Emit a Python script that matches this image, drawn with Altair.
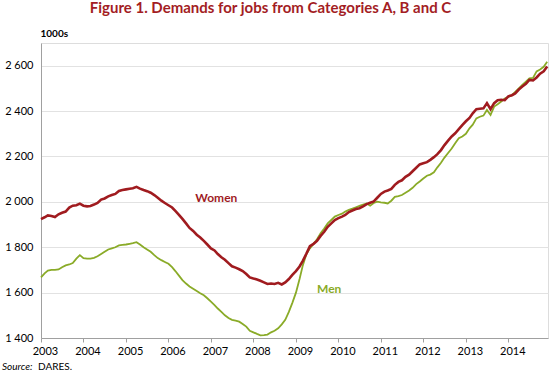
import altair as alt
import pandas as pd

years = list(range(2003, 2015))
months = [f"{y}-{m:02d}-01" for y in years for m in range(1, 13)]

women_values = [
    1924, 1932, 1940, 1938, 1933, 1945, 1952, 1957, 1975, 1983, 1985, 1992,  # 2003
    1983, 1980, 1982, 1988, 1995, 2010, 2015, 2024, 2030, 2035, 2048, 2052,  # 2004
    2055, 2058, 2060, 2066, 2058, 2052, 2047, 2040, 2030, 2018, 2005, 1995,  # 2005
    1985, 1975, 1960, 1943, 1925, 1905, 1885, 1872, 1855, 1843, 1828, 1812,  # 2006
    1795, 1786, 1770, 1756, 1745, 1730, 1716, 1710, 1703, 1695, 1682, 1667,  # 2007
    1662, 1658, 1652, 1645, 1638, 1640, 1638, 1643, 1636, 1645, 1660, 1678,  # 2008
    1695, 1715, 1740, 1772, 1805, 1815, 1828, 1850, 1868, 1890, 1905, 1920,  # 2009
    1928, 1935, 1942, 1955, 1962, 1968, 1972, 1980, 1990, 1996, 2002, 2018,  # 2010
    2035, 2045, 2050, 2057, 2075, 2088, 2095, 2110, 2120, 2135, 2150, 2165,  # 2011
    2170, 2175, 2185, 2197, 2210, 2228, 2250, 2270, 2288, 2302, 2320, 2338,  # 2012
    2355, 2370, 2390, 2408, 2410, 2412, 2435, 2408, 2435, 2448, 2450, 2448,  # 2013
    2465, 2470, 2478, 2495, 2508, 2520, 2537, 2535, 2548, 2565, 2575, 2596,  # 2014
]

men_values = [
    1667, 1685, 1697, 1700, 1700, 1702, 1712, 1720, 1724, 1730, 1750, 1765,  # 2003
    1752, 1750, 1750, 1753, 1760, 1770, 1780, 1790, 1795, 1800, 1808, 1810,  # 2004
    1812, 1815, 1818, 1822, 1812, 1800, 1790, 1780, 1765, 1752, 1743, 1735,  # 2005
    1727, 1712, 1695, 1675, 1655, 1640, 1627, 1617, 1607, 1597, 1588, 1575,  # 2006
    1560, 1545, 1530, 1515, 1500, 1488, 1480, 1477, 1472, 1462, 1450, 1432,  # 2007
    1425, 1418, 1412, 1413, 1415, 1425, 1432, 1443, 1460, 1480, 1515, 1555,  # 2008
    1600, 1660, 1720, 1770, 1795, 1815, 1835, 1862, 1882, 1905, 1920, 1935,  # 2009
    1942, 1948, 1957, 1965, 1970, 1976, 1982, 1988, 1993, 1983, 1995, 2001,  # 2010
    1998, 1996, 1993, 2005, 2022, 2025, 2030, 2040, 2050, 2062, 2078, 2090,  # 2011
    2103, 2115, 2120, 2130, 2152, 2172, 2195, 2215, 2235, 2258, 2280, 2288,  # 2012
    2300, 2324, 2340, 2368, 2375, 2380, 2405, 2383, 2420, 2430, 2442, 2455,  # 2013
    2462, 2470, 2485, 2500, 2515, 2530, 2544, 2546, 2575, 2583, 2595, 2617,  # 2014
]

series_names = ["Women", "Men"]
series_colors = ["#a01b1f", "#8aab28"]
y_ticks = [1400, 1600, 1800, 2000, 2200, 2400, 2600]
label_texts = ["Women", "Men"]
label_dates = ["2006-08-20", "2009-07-01"]
label_values = [2018, 1616]

df = pd.DataFrame({
    "date": months * 2,
    "value": women_values + men_values,
    "series": ["Women"] * len(months) + ["Men"] * len(months),
})

x_scale = alt.Scale(
    type="utc",
    domain=[alt.DateTime(year=2003, month=1, date=1, utc=True),
            alt.DateTime(year=2014, month=12, date=8, utc=True)],
)
y_scale = alt.Scale(domain=[1400, 2700], nice=False, zero=False)
color_scale = alt.Scale(domain=series_names, range=series_colors)

x_axis = alt.Axis(
    title=None,
    values=[alt.DateTime(year=y, month=1, date=1, utc=True) for y in years],
    format="%Y",
    grid=False,
    domain=True,
    domainColor="#a0a0a0",
    ticks=True,
    tickColor="#a0a0a0",
    tickSize=4,
    labelPadding=3,
    labelOffset=4,
    labelFlush=False,
    labelOverlap=False,
    labelFont="Lato",
    labelFontSize=11,
    labelColor="#000000",
)
y_axis = alt.Axis(
    title="1000s",
    titleAngle=0,
    titleAlign="left",
    titleBaseline="alphabetic",
    titleX=-1,
    titleY=-7,
    titleFont="Lato",
    titleFontSize=10,
    titleFontWeight="bold",
    titleColor="#000000",
    values=y_ticks,
    labelExpr="replace(format(datum.value, ','), ',', ' ')",
    grid=True,
    gridColor="#e2e2e2",
    gridWidth=1,
    domain=True,
    domainColor="#a0a0a0",
    ticks=False,
    labelPadding=8,
    labelFont="Lato",
    labelFontSize=11,
    labelColor="#000000",
)

base = alt.Chart(df)

men_line = base.transform_filter(alt.datum.series == "Men").mark_line(
    strokeWidth=1.8, interpolate="linear"
).encode(
    x=alt.X("date:T", scale=x_scale, axis=x_axis),
    y=alt.Y("value:Q", scale=y_scale, axis=y_axis),
    color=alt.Color("series:N", scale=color_scale, legend=None),
)

women_line = base.transform_filter(alt.datum.series == "Women").mark_line(
    strokeWidth=2.6, interpolate="linear"
).encode(
    x=alt.X("date:T", scale=x_scale),
    y=alt.Y("value:Q", scale=y_scale),
    color=alt.Color("series:N", scale=color_scale, legend=None),
)

labels_df = pd.DataFrame({"text": label_texts, "date": label_dates, "value": label_values,
                          "series": label_texts})
labels = alt.Chart(labels_df).mark_text(
    align="left", baseline="middle", font="Lato", fontSize=12, fontWeight="bold"
).encode(
    x=alt.X("date:T", scale=x_scale),
    y=alt.Y("value:Q", scale=y_scale),
    text="text:N",
    color=alt.Color("series:N", scale=color_scale, legend=None),
)

src1 = alt.Chart(pd.DataFrame({"t": ["Source:"]})).mark_text(
    align="left", baseline="alphabetic", font="Lato", fontSize=10, fontStyle="italic", color="#000000"
).encode(x=alt.value(-39), y=alt.value(327), text="t:N")
src2 = alt.Chart(pd.DataFrame({"t": ["DARES."]})).mark_text(
    align="left", baseline="alphabetic", font="Lato", fontSize=10, color="#000000"
).encode(x=alt.value(-3), y=alt.value(327), text="t:N")

chart = alt.layer(men_line, women_line, labels, src1, src2).properties(
    width=507,
    height=295,
    autosize=alt.AutoSizeParams(type="none"),
    padding={"left": 41, "top": 43, "right": 2, "bottom": 37},
    title=alt.TitleParams(
        text="Figure 1. Demands for jobs from Categories A, B and C",
        font="Lato",
        fontSize=15,
        fontWeight="bold",
        color="#a31d24",
        anchor="middle",
        frame="group",
        baseline="alphabetic",
        offset=0,
        dx=-24,
    ),
).configure_view(
    fill="#f4f4f4",
    stroke=None,
).configure(background="#ffffff")

chart.save("out.html", embed_options={"renderer": "svg", "actions": False})
